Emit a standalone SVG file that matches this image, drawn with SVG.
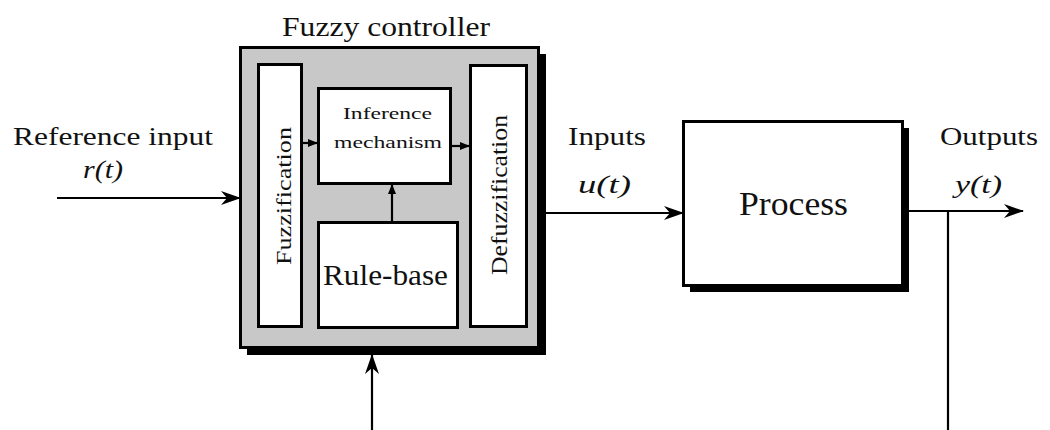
<svg xmlns="http://www.w3.org/2000/svg" width="1050" height="430" viewBox="0 0 1050 430">
<defs>
<marker id="ah" viewBox="0 0 20 14" refX="19" refY="7" markerWidth="20" markerHeight="14" markerUnits="userSpaceOnUse" orient="auto">
<path d="M0,0 L20,7 L0,14 L6,7 Z" fill="#000"/>
</marker>
<marker id="sh" viewBox="0 0 10 8" refX="10" refY="4" markerWidth="10" markerHeight="8" markerUnits="userSpaceOnUse" orient="auto">
<path d="M0,0 L10,4 L0,8 Z" fill="#000"/>
</marker>
<style>
text{font-family:"Liberation Serif","DejaVu Serif",serif;fill:#111}
.box{fill:#fff;stroke:#000;stroke-width:3}
.ln{stroke:#000;stroke-width:2.2;fill:none}
.it{font-style:italic}
</style>
</defs>
<rect width="1050" height="430" fill="#fff"/>
<g id="controller">
<rect x="247" y="54" width="299" height="301" fill="#000"/>
<rect x="240.5" y="47.5" width="298" height="300" fill="#c8c8c8" stroke="#000" stroke-width="3"/>
<text x="282" y="36" font-size="27" textLength="208" lengthAdjust="spacingAndGlyphs">Fuzzy controller</text>
</g>
<g id="fuzzification">
<rect class="box" x="258.5" y="64.5" width="43" height="262"/>
<text transform="translate(291,265) rotate(-90)" font-size="22" textLength="138" lengthAdjust="spacingAndGlyphs">Fuzzification</text>
</g>
<g id="inference">
<rect class="box" x="318.5" y="88.5" width="132" height="95"/>
<text x="343" y="119" font-size="17" textLength="89" lengthAdjust="spacingAndGlyphs">Inference</text>
<text x="334" y="148" font-size="17" textLength="108" lengthAdjust="spacingAndGlyphs">mechanism</text>
</g>
<g id="defuzzification">
<rect class="box" x="470.5" y="65.5" width="56" height="261"/>
<text transform="translate(507,275) rotate(-90)" font-size="24" textLength="160" lengthAdjust="spacingAndGlyphs">Defuzzification</text>
</g>
<g id="rulebase">
<rect class="box" x="318.5" y="222.5" width="139" height="105"/>
<text x="323" y="285" font-size="29" textLength="125" lengthAdjust="spacingAndGlyphs">Rule-base</text>
</g>
<g id="process">
<rect x="690" y="128" width="219" height="164" fill="#000"/>
<rect class="box" x="683.5" y="121.5" width="219" height="164"/>
<text x="739" y="215" font-size="33" textLength="109" lengthAdjust="spacingAndGlyphs">Process</text>
</g>
<g id="labels">
<text x="13" y="145" font-size="25" textLength="200" lengthAdjust="spacingAndGlyphs">Reference input</text>
<text x="83" y="178" font-size="25" class="it" textLength="40" lengthAdjust="spacingAndGlyphs">r(t)</text>
<text x="568" y="145" font-size="25" textLength="78" lengthAdjust="spacingAndGlyphs">Inputs</text>
<text x="578" y="193" font-size="25" class="it" textLength="53" lengthAdjust="spacingAndGlyphs">u(t)</text>
<text x="940" y="145" font-size="25" textLength="98" lengthAdjust="spacingAndGlyphs">Outputs</text>
<text x="955" y="193" font-size="25" class="it" textLength="47" lengthAdjust="spacingAndGlyphs">y(t)</text>
</g>
<g id="connectors">
<line class="ln" x1="57" y1="198" x2="240" y2="198" marker-end="url(#ah)"/>
<line class="ln" x1="302" y1="143" x2="318" y2="143" marker-end="url(#sh)"/>
<line class="ln" x1="451" y1="146" x2="470" y2="146" marker-end="url(#sh)"/>
<line class="ln" x1="392" y1="222" x2="392" y2="184" marker-end="url(#sh)"/>
<line class="ln" x1="372" y1="430" x2="372" y2="355" marker-end="url(#ah)"/>
<line class="ln" x1="546" y1="213" x2="683" y2="213" marker-end="url(#ah)"/>
<line class="ln" x1="909" y1="211" x2="1023" y2="211" marker-end="url(#ah)"/>
<line class="ln" x1="948" y1="211" x2="948" y2="430"/>
</g>
</svg>
